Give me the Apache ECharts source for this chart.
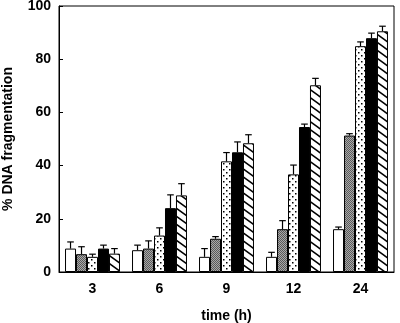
<!DOCTYPE html>
<html>
<head>
<meta charset="utf-8">
<script src="https://cdn.jsdelivr.net/npm/echarts@6/dist/echarts.min.js"></script>
<style>
  html, body { margin: 0; padding: 0; background: #fff; }
  #chart { width: 400px; height: 323px; }
</style>
</head>
<body>
<div id="chart"></div>
<script>
// Sampling times (hours)
const times = ['3', '6', '9', '12', '24'];
// Mean % DNA fragmentation for each of the five conditions, per time point
const meansWhite   = [8.8, 8.2, 5.7, 5.7, 16.1];
const meansGrey    = [6.7, 8.8, 12.5, 16.1, 51.3];
const meansDotted  = [5.7, 13.7, 41.6, 36.7, 84.9];
const meansBlack   = [8.8, 24.0, 45.0, 54.5, 87.9];
const meansHatched = [6.9, 28.8, 48.4, 70.2, 90.5];
// Standard deviations (upper error bars)
const sdWhite   = [2.5, 1.9, 3.1, 1.7, 0.8];
const sdGrey    = [2.8, 2.9, 0.8, 3.2, 0.7];
const sdDotted  = [1.0, 2.9, 3.3, 3.5, 1.6];
const sdBlack   = [1.3, 5.0, 3.9, 1.1, 1.9];
const sdHatched = [1.9, 4.4, 3.2, 2.6, 1.9];
const yTicks = [0, 20, 40, 60, 80, 100];

const CAT_GAP = 0.18;
const FONT = '"Liberation Sans", Arial, Helvetica, sans-serif';

function tile(w, h, draw) {
  const c = document.createElement('canvas');
  c.width = w; c.height = h;
  const ctx = c.getContext('2d');
  draw(ctx, w, h);
  return { image: c, repeat: 'repeat' };
}

const greyFill = tile(2, 2, (ctx) => {
  ctx.fillStyle = '#a8a8a8'; ctx.fillRect(0, 0, 2, 2);
  ctx.fillStyle = '#5a5a5a'; ctx.fillRect(0, 0, 1, 1); ctx.fillRect(1, 1, 1, 1);
});
const dotFill = tile(6, 6, (ctx) => {
  ctx.fillStyle = '#fff'; ctx.fillRect(0, 0, 6, 6);
  ctx.fillStyle = '#000';
  ctx.fillRect(1, 1, 1.5, 1.5);
  ctx.fillRect(4, 4, 1.5, 1.5);
});
// Shallow back-slash hatching, one line every 8 px vertically
const hatchFill = tile(11, 8, (ctx, w, h) => {
  ctx.fillStyle = '#fff'; ctx.fillRect(0, 0, w, h);
  ctx.strokeStyle = '#000'; ctx.lineWidth = 1.5;
  ctx.beginPath();
  [-h, 0, h].forEach((dy) => {
    ctx.moveTo(-w, -h + dy); ctx.lineTo(2 * w, 2 * h + dy);
  });
  ctx.stroke();
});

const groups = [
  { means: meansWhite,   sd: sdWhite,   fill: '#ffffff' },
  { means: meansGrey,    sd: sdGrey,    fill: greyFill },
  { means: meansDotted,  sd: sdDotted,  fill: dotFill },
  { means: meansBlack,   sd: sdBlack,   fill: '#000000' },
  { means: meansHatched, sd: sdHatched, fill: hatchFill }
];
const nBars = groups.length;

const barSeries = groups.map((g) => ({
  type: 'bar',
  data: g.means,
  barGap: 0,
  barCategoryGap: (CAT_GAP * 100) + '%',
  itemStyle: { color: g.fill, borderColor: '#000', borderWidth: 1 },
  silent: true,
  z: 2
}));

// Error bar data: [category index, mean, upper end, bar index]
const errData = [];
groups.forEach((g, k) => {
  g.means.forEach((m, i) => errData.push([i, m, m + g.sd[i], k]));
});

const errSeries = {
  type: 'custom',
  data: errData,
  z: 5,
  silent: true,
  renderItem: function (params, api) {
    const ci = api.value(0), m = api.value(1), up = api.value(2), k = api.value(3);
    const base = api.coord([ci, m]);
    const top = api.coord([ci, up]);
    const band = api.size([1, 0])[0];
    const bw = band * (1 - CAT_GAP) / nBars;
    const x = base[0] + (k - (nBars - 1) / 2) * bw;
    const half = bw * 0.3;
    const style = { stroke: '#000', lineWidth: 1.2 };
    return {
      type: 'group',
      children: [
        { type: 'line', shape: { x1: x, y1: base[1], x2: x, y2: top[1] }, style: style },
        { type: 'line', shape: { x1: x - half, y1: top[1], x2: x + half, y2: top[1] }, style: style }
      ]
    };
  }
};

const chart = echarts.init(document.getElementById('chart'), null, { renderer: 'canvas' });
chart.setOption({
  animation: false,
  backgroundColor: '#fff',
  grid: {
    left: 59, right: 6, top: 6, bottom: 51,
    outerBoundsMode: 'none',
    containLabel: false,
    show: true, borderColor: '#000', borderWidth: 1, backgroundColor: 'transparent'
  },
  xAxis: {
    type: 'category',
    data: times,
    name: 'time (h)',
    nameLocation: 'middle',
    nameGap: 37,
    nameTextStyle: { fontFamily: FONT, fontWeight: 'bold', fontSize: 14, color: '#000' },
    axisLine: { lineStyle: { color: '#000', width: 1 } },
    axisTick: { show: false },
    axisLabel: { fontFamily: FONT, fontWeight: 'bold', fontSize: 14, color: '#000', margin: 10 }
  },
  yAxis: {
    type: 'value',
    min: yTicks[0],
    max: yTicks[yTicks.length - 1],
    interval: yTicks[1] - yTicks[0],
    name: '% DNA fragmentation',
    nameLocation: 'middle',
    nameGap: 44,
    nameTextStyle: { fontFamily: FONT, fontWeight: 'bold', fontSize: 14, color: '#000' },
    axisLine: { show: true, lineStyle: { color: '#000', width: 1 } },
    axisTick: { show: true, inside: true, length: 4, lineStyle: { color: '#000' } },
    splitLine: { show: false },
    axisLabel: { fontFamily: FONT, fontWeight: 'bold', fontSize: 14, color: '#000', margin: 8 }
  },
  series: barSeries.concat([errSeries])
});
</script>
</body>
</html>
